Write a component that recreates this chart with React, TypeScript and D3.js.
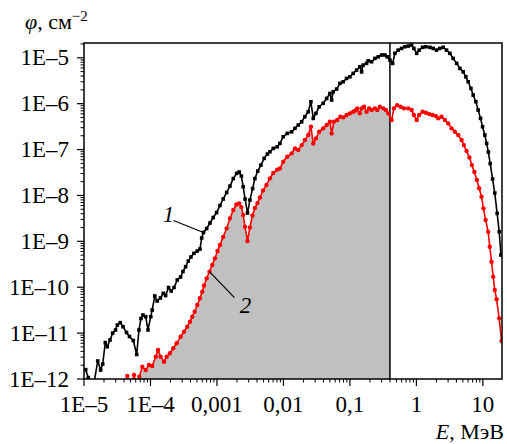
import React from "react";
import * as d3 from "d3";

// Curve 1 (black): energy, MeV and fluence, cm^-2
const energy1 = [
  1.06e-5, 1.16e-5, 1.32e-5, 1.61e-5, 1.78e-5, 1.91e-5, 2.09e-5, 2.24e-5, 2.46e-5, 2.7e-5,
  2.98e-5, 3.17e-5, 3.51e-5, 3.86e-5, 4.36e-5, 4.83e-5, 5.51e-5, 6.2e-5, 6.71e-5, 7.19e-5,
  7.71e-5, 8.47e-5, 9.17e-5, 1.01e-4, 1.06e-4, 1.16e-4, 1.26e-4, 1.41e-4, 1.56e-4, 1.69e-4,
  1.87e-4, 2.05e-4, 2.26e-4, 2.53e-4, 2.84e-4, 3.08e-4, 3.38e-4, 3.7e-4, 4.06e-4, 4.51e-4,
  5.06e-4, 5.55e-4, 5.89e-4, 6.27e-4, 7.0e-4, 7.85e-4, 8.79e-4, 9.89e-4, 1.11e-3, 1.24e-3,
  1.4e-3, 1.57e-3, 1.76e-3, 1.98e-3, 2.16e-3, 2.33e-3, 2.48e-3, 2.65e-3, 2.88e-3, 3.13e-3,
  3.44e-3, 3.72e-3, 4.11e-3, 4.59e-3, 5.13e-3, 5.74e-3, 6.27e-3, 7.03e-3, 8.07e-3, 8.85e-3,
  9.93e-3, 1.14e-2, 1.33e-2, 1.49e-2, 1.67e-2, 1.88e-2, 2.1e-2, 2.36e-2, 2.59e-2, 2.81e-2,
  3.08e-2, 3.45e-2, 3.96e-2, 4.47e-2, 5.0e-2, 5.31e-2, 5.61e-2, 6.31e-2, 7.08e-2, 7.93e-2,
  8.91e-2, 0.1, 0.112, 0.126, 0.141, 0.15, 0.158, 0.178, 0.188, 0.212,
  0.238, 0.267, 0.3, 0.336, 0.364, 0.4, 0.439, 0.475, 0.532, 0.598,
  0.671, 0.753, 0.847, 0.916, 1.01, 1.1, 1.24, 1.39, 1.6, 1.79,
  2.01, 2.25, 2.53, 2.84, 3.19, 3.57, 4.03, 4.51, 5.06, 5.55,
  6.01, 6.61, 7.15, 7.85, 8.49, 9.23, 9.89, 10.7, 11.4, 12.1,
  12.9, 14.0, 15.1, 16.4, 17.6, 18.7,
];
const flux1 = [
  1.6e-12, 1.07e-12, 4.5e-13, 2.47e-12, 1.57e-12, 2.12e-12, 6.18e-12, 5.06e-12, 7.08e-12, 1.0e-11,
  1.17e-11, 1.5e-11, 1.69e-11, 1.38e-11, 1.03e-11, 8.43e-12, 6.9e-12, 3.42e-12, 1.17e-11, 2.08e-11,
  2.48e-11, 2.28e-11, 1.17e-11, 2.28e-11, 3.18e-11, 6.43e-11, 5.0e-11, 5.82e-11, 7.36e-11, 6.59e-11,
  9.85e-11, 8.26e-11, 9.85e-11, 1.44e-10, 1.67e-10, 2.2e-10, 2.8e-10, 3.72e-10, 4.55e-10, 5.48e-10,
  6.15e-10, 6.79e-10, 1.18e-9, 1.56e-9, 1.9e-9, 2.51e-9, 3.3e-9, 4.24e-9, 6.03e-9, 8.36e-9,
  1.16e-8, 1.6e-8, 2.33e-8, 3.03e-8, 3.24e-8, 2.65e-8, 1.55e-8, 8.36e-9, 4.14e-9, 7.94e-9,
  1.41e-8, 2.33e-8, 3.4e-8, 4.59e-8, 6.43e-8, 7.98e-8, 8.95e-8, 1.06e-7, 1.15e-7, 1.36e-7,
  1.9e-7, 2.25e-7, 2.44e-7, 2.9e-7, 3.42e-7, 4.03e-7, 5.19e-7, 6.67e-7, 1.1e-6, 4.79e-7,
  6.15e-7, 8.55e-7, 1.02e-6, 1.3e-6, 1.67e-6, 1.2e-6, 1.82e-6, 2.08e-6, 2.77e-6, 3.0e-6,
  3.56e-6, 3.85e-6, 4.57e-6, 5.4e-6, 6.37e-6, 4.95e-6, 6.93e-6, 7.55e-6, 8.61e-6, 8.18e-6,
  9.7e-6, 1.05e-5, 1.15e-5, 1.15e-5, 1.05e-5, 8.91e-6, 7.55e-6, 1.25e-5, 1.47e-5, 1.6e-5,
  1.74e-5, 1.8e-5, 1.89e-5, 1.6e-5, 1.25e-5, 1.47e-5, 1.69e-5, 1.74e-5, 1.69e-5, 1.6e-5,
  1.47e-5, 1.6e-5, 1.69e-5, 1.47e-5, 1.25e-5, 9.7e-6, 7.55e-6, 5.87e-6, 4.95e-6, 3.85e-6,
  3.0e-6, 2.15e-6, 1.54e-6, 1.1e-6, 7.26e-7, 4.79e-7, 3.14e-7, 2.07e-7, 1.36e-7, 8.83e-8,
  4.95e-8, 2.28e-8, 1.13e-8, 4.07e-9, 1.62e-9, 5.03e-10,
];

// Curve 2 (red)
const energy2 = [
  4.48e-5, 5.0e-5, 5.65e-5, 6.15e-5, 6.79e-5, 7.53e-5, 8.47e-5, 9.49e-5, 1.06e-4, 1.2e-4,
  1.3e-4, 1.42e-4, 1.6e-4, 1.75e-4, 1.96e-4, 2.2e-4, 2.48e-4, 2.84e-4, 3.19e-4, 3.57e-4,
  3.93e-4, 4.25e-4, 4.62e-4, 5.06e-4, 5.55e-4, 6.01e-4, 6.38e-4, 7.0e-4, 7.71e-4, 8.49e-4,
  9.33e-4, 1.02e-3, 1.11e-3, 1.24e-3, 1.4e-3, 1.57e-3, 1.76e-3, 1.96e-3, 2.16e-3, 2.33e-3,
  2.48e-3, 2.64e-3, 2.88e-3, 3.13e-3, 3.42e-3, 3.72e-3, 4.06e-3, 4.44e-3, 4.92e-3, 5.55e-3,
  6.27e-3, 7.03e-3, 8.07e-3, 8.85e-3, 9.93e-3, 1.14e-2, 1.33e-2, 1.49e-2, 1.67e-2, 1.88e-2,
  2.1e-2, 2.36e-2, 2.59e-2, 2.81e-2, 3.08e-2, 3.45e-2, 3.96e-2, 4.47e-2, 5.0e-2, 5.31e-2,
  5.74e-2, 6.44e-2, 7.19e-2, 7.98e-2, 8.91e-2, 0.1, 0.112, 0.121, 0.129, 0.141,
  0.15, 0.163, 0.178, 0.195, 0.212, 0.238, 0.258, 0.282, 0.317, 0.348,
  0.377, 0.424, 0.459, 0.514, 0.578, 0.649, 0.753, 0.847, 0.916, 1.01,
  1.1, 1.24, 1.39, 1.56, 1.75, 1.96, 2.13, 2.39, 2.68, 3.01,
  3.38, 3.79, 4.26, 4.79, 5.18, 5.69, 6.27, 6.84, 7.45, 8.13,
  8.79, 9.55, 10.2, 11.0, 12.0, 12.7, 13.5, 14.3, 15.1, 16.1,
  17.6, 19.1,
];
const flux2 = [
  1.16e-12, 6.37e-13, 1.22e-12, 7.78e-13, 1.12e-12, 1.85e-12, 1.57e-12, 2.02e-12, 1.92e-12, 3.06e-12,
  4.29e-12, 3.06e-12, 2.38e-12, 3.06e-12, 3.63e-12, 4.67e-12, 6.0e-12, 8.35e-12, 1.07e-11, 1.38e-11,
  1.77e-11, 2.28e-11, 2.92e-11, 4.09e-11, 5.73e-11, 7.98e-11, 1.09e-10, 1.56e-10, 2.18e-10, 3.05e-10,
  4.26e-10, 6.15e-10, 8.3e-10, 1.24e-9, 1.92e-9, 3.17e-9, 4.81e-9, 6.34e-9, 6.73e-9, 5.58e-9,
  3.74e-9, 2.08e-9, 1.02e-9, 2.0e-9, 3.65e-9, 5.31e-9, 6.82e-9, 9.0e-9, 1.28e-8, 1.69e-8,
  2.36e-8, 3.08e-8, 3.66e-8, 3.89e-8, 5.42e-8, 6.97e-8, 8.26e-8, 1.06e-7, 9.75e-8, 1.25e-7,
  1.61e-7, 2.07e-7, 3.14e-7, 1.36e-7, 1.75e-7, 2.44e-7, 2.9e-7, 3.42e-7, 4.03e-7, 2.25e-7,
  4.03e-7, 4.4e-7, 5.19e-7, 5.03e-7, 5.65e-7, 6.15e-7, 6.67e-7, 7.08e-7, 7.91e-7, 6.15e-7,
  7.91e-7, 8.55e-7, 6.67e-7, 7.91e-7, 7.26e-7, 7.91e-7, 7.26e-7, 8.55e-7, 7.91e-7, 7.26e-7,
  6.15e-7, 4.4e-7, 7.91e-7, 9.31e-7, 8.55e-7, 7.91e-7, 7.91e-7, 7.26e-7, 5.65e-7, 4.4e-7,
  5.65e-7, 6.67e-7, 6.34e-7, 5.93e-7, 5.65e-7, 5.37e-7, 4.79e-7, 5.19e-7, 4.4e-7, 3.72e-7,
  2.9e-7, 2.44e-7, 2.07e-7, 1.61e-7, 1.25e-7, 9.27e-8, 6.7e-8, 4.59e-8, 3.24e-8, 2.17e-8,
  1.43e-8, 9.37e-9, 5.24e-9, 2.91e-9, 1.62e-9, 7.62e-10, 3.6e-10, 1.69e-10, 8.69e-11, 5.45e-11,
  2.1e-11, 6.73e-12,
];

const xMajorTicks = [1e-5, 1e-4, 1e-3, 1e-2, 1e-1, 1, 10];
const xTickLabels = ["1E\u20135", "1E\u20134", "0,001", "0,01", "0,1", "1", "10"];
const yMajorTicks = [1e-12, 1e-11, 1e-10, 1e-9, 1e-8, 1e-7, 1e-6, 1e-5];
const yTickLabels = [
  "1E\u201312", "1E\u201311", "1E\u201310", "1E\u20139",
  "1E\u20138", "1E\u20137", "1E\u20136", "1E\u20135",
];
const cutoffEnergy = 0.4; // vertical line / shaded region boundary, MeV
const xDomain = [1e-5, 19.4];
const yDomain = [1e-12, 2.1e-5];
const label1Anchor = { e: 6.27e-4, f: 1.56e-9 };
const label2Anchor = { e: 7.71e-4, f: 2.18e-10 };

type Pt = { e: number; f: number };

export default function App() {
  const W = 507, H = 444;
  const left = 84, right = 502, top = 43, bottom = 379;
  const x = d3.scaleLog().domain(xDomain).range([left, right]);
  const y = d3.scaleLog().domain(yDomain).range([bottom, top]);

  const s1: Pt[] = energy1.map((e, i) => ({ e, f: flux1[i] }));
  const s2: Pt[] = energy2.map((e, i) => ({ e, f: flux2[i] }));

  const line = d3.line<Pt>().x((d) => x(d.e)).y((d) => y(d.f));

  // shaded area under curve 2 up to cutoff energy
  const under = s2.filter((d) => d.e <= cutoffEnergy);
  const after = s2.find((d) => d.e > cutoffEnergy)!;
  const last = under[under.length - 1];
  const t = (Math.log(cutoffEnergy) - Math.log(last.e)) / (Math.log(after.e) - Math.log(last.e));
  const fCut = Math.exp(Math.log(last.f) + t * (Math.log(after.f) - Math.log(last.f)));
  const areaPts = [...under, { e: cutoffEnergy, f: fCut }];
  const area = d3.area<Pt>().x((d) => x(d.e)).y0(bottom).y1((d) => y(d.f));

  const xMinor: number[] = [];
  for (let k = -5; k <= 1; k++)
    for (let m = 2; m <= 9; m++) {
      const v = m * Math.pow(10, k);
      if (v <= xDomain[1]) xMinor.push(v);
    }
  const yMinor: number[] = [];
  for (let k = -12; k <= -5; k++)
    for (let m = 2; m <= 9; m++) {
      const v = m * Math.pow(10, k);
      if (v <= yDomain[1]) yMinor.push(v);
    }

  const font = "'Liberation Serif', 'Times New Roman', Times, serif";
  const fs = 23;

  const a1x = x(label1Anchor.e), a1y = y(label1Anchor.f);
  const a2x = x(label2Anchor.e), a2y = y(label2Anchor.f);

  return (
    <svg width={W} height={H} style={{ position: "absolute", left: 0, top: 0, background: "#fff", fontFamily: font }}>
      <defs>
        <clipPath id="plotClip">
          <rect x={left} y={top} width={right - left} height={bottom - top} />
        </clipPath>
      </defs>
      <rect x={0} y={0} width={W} height={H} fill="#fff" />
      <g clipPath="url(#plotClip)">
        <path d={area(areaPts) || ""} fill="#c0c0c0" stroke="none" />
        <line x1={x(cutoffEnergy)} x2={x(cutoffEnergy)} y1={top} y2={bottom} stroke="#000" strokeWidth={1.5} />
        <path d={line(s1) || ""} fill="none" stroke="#000" strokeWidth={1.6} />
        {s1.map((d, i) => (
          <rect key={"b" + i} x={x(d.e) - 1.8} y={y(d.f) - 1.8} width={3.6} height={3.6} fill="#000" />
        ))}
        <path d={line(s2) || ""} fill="none" stroke="#ff0000" strokeWidth={1.6} />
        {s2.map((d, i) => (
          <circle key={"r" + i} cx={x(d.e)} cy={y(d.f)} r={2.2} fill="#ff0000" />
        ))}
      </g>
      <rect x={left} y={top} width={right - left} height={bottom - top} fill="none" stroke="#000" strokeWidth={1.5} />

      {/* x ticks */}
      {xMajorTicks.map((v, i) => (
        <g key={"xt" + i}>
          <line x1={x(v)} x2={x(v)} y1={bottom} y2={bottom + 7} stroke="#000" strokeWidth={1.2} />
          <text x={x(v)} y={411.5} textAnchor="middle" fontSize={fs}>{xTickLabels[i]}</text>
        </g>
      ))}
      {xMinor.map((v, i) => (
        <line key={"xm" + i} x1={x(v)} x2={x(v)} y1={bottom} y2={bottom + 3.5} stroke="#000" strokeWidth={1} />
      ))}
      {/* y ticks */}
      {yMajorTicks.map((v, i) => (
        <g key={"yt" + i}>
          <line x1={left - 7} x2={left} y1={y(v)} y2={y(v)} stroke="#000" strokeWidth={1.2} />
          <text x={69} y={y(v) + 7.5} textAnchor="end" fontSize={fs}>{yTickLabels[i]}</text>
        </g>
      ))}
      {yMinor.map((v, i) => (
        <line key={"ym" + i} x1={left - 3.5} x2={left} y1={y(v)} y2={y(v)} stroke="#000" strokeWidth={1} />
      ))}

      {/* axis titles */}
      <text x={25} y={29} fontSize={22}>
        <tspan fontStyle="italic">{"\u03C6"}</tspan>
        <tspan>{", см"}</tspan>
        <tspan fontSize={15} dy={-8}>{"\u22122"}</tspan>
      </text>
      <text x={504} y={439} textAnchor="end" fontSize={22}>
        <tspan fontStyle="italic">E</tspan>
        <tspan>{", МэВ"}</tspan>
      </text>

      {/* curve labels */}
      <line x1={a1x - 30} x2={a1x} y1={a1y - 12} y2={a1y} stroke="#000" strokeWidth={1.2} />
      <text x={a1x - 35} y={a1y - 10.5} textAnchor="middle" fontSize={fs} fontStyle="italic">1</text>
      <line x1={a2x} x2={a2x + 25} y1={a2y} y2={a2y + 26} stroke="#000" strokeWidth={1.2} />
      <text x={a2x + 36} y={a2y + 41} textAnchor="middle" fontSize={fs} fontStyle="italic">2</text>
    </svg>
  );
}
